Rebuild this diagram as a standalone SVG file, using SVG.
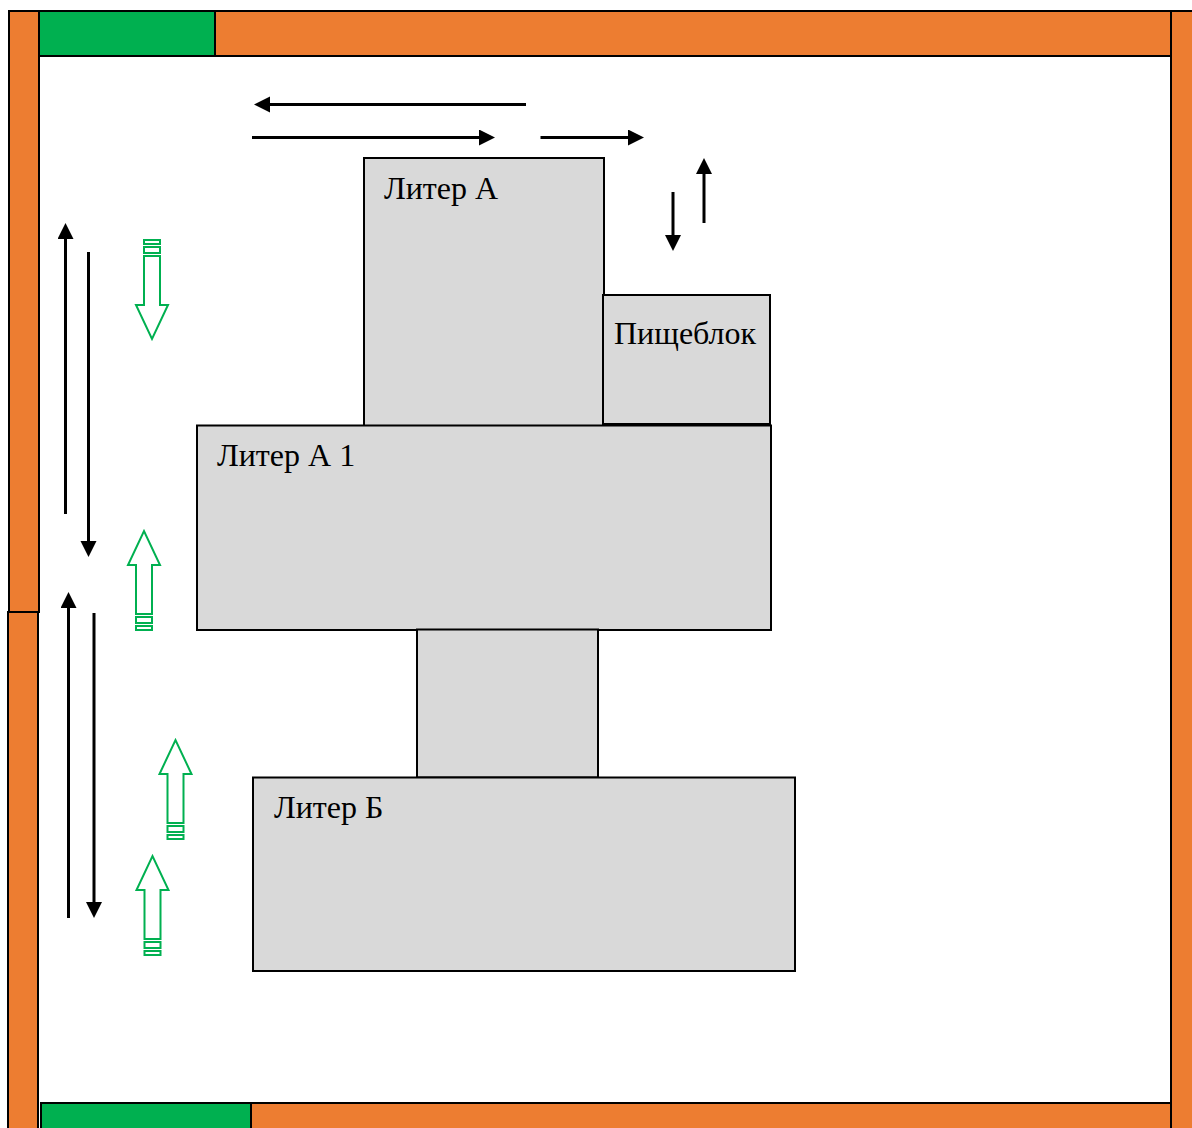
<svg xmlns="http://www.w3.org/2000/svg" width="1192" height="1128" viewBox="0 0 1192 1128">
<defs>
<style>
.w{fill:#ed7d31;stroke:#000;stroke-width:2}
.g{fill:#00b050;stroke:#000;stroke-width:2}
.b{fill:#d9d9d9;stroke:#000;stroke-width:2}
.t{font-family:"Liberation Serif","Times New Roman",serif;font-size:32px;fill:#000}
.l{stroke:#000;stroke-width:3;fill:none;marker-end:url(#ah)}
.a{fill:#fff;stroke:#00b050;stroke-width:2}
</style>
<marker id="ah" markerUnits="userSpaceOnUse" markerWidth="17" markerHeight="17" refX="8" refY="8" orient="auto"><path d="M0 0L16 8L0 16Z" fill="#000"/></marker>
<g id="ga"><path d="M-8 -34V15H-16L0 49L16 15H8V-34Z" class="a"/><rect x="-8" y="-43" width="16" height="6" class="a"/><rect x="-8" y="-50" width="16" height="4" class="a"/></g>
</defs>
<rect width="1192" height="1128" fill="#fff"/>
<g id="wall-left-top"><rect class="w" x="9" y="11" width="30" height="601"/></g>
<g id="wall-left-bottom"><rect class="w" x="8" y="612" width="30" height="520"/></g>
<g id="wall-right"><rect class="w" x="1171" y="11" width="30" height="1125"/></g>
<g id="wall-top"><rect class="w" x="39" y="11" width="1132" height="45"/></g>
<g id="gate-top"><rect class="g" x="39" y="11" width="176" height="45"/></g>
<g id="wall-bottom"><rect class="w" x="41" y="1103" width="1130" height="40"/></g>
<g id="gate-bottom"><rect class="g" x="41" y="1103" width="210" height="40"/></g>
<g id="liter-a"><rect class="b" x="364" y="158" width="240" height="268"/><text class="t" x="384" y="199">Литер А</text></g>
<g id="pishcheblok"><rect class="b" x="603" y="295" width="167" height="129"/><text class="t" x="614" y="344">Пищеблок</text></g>
<g id="liter-a1"><rect class="b" x="197" y="425.500" width="574" height="204.500"/><text class="t" x="217" y="466">Литер А 1</text></g>
<g id="passage"><rect class="b" x="417" y="629.500" width="181" height="148"/></g>
<g id="liter-b"><rect class="b" x="253" y="777.500" width="542" height="193.500"/><text class="t" x="274" y="818">Литер Б</text></g>
<g id="connectors">
<path class="l" d="M526 104.500H262"/>
<path class="l" d="M252 137.500H487"/>
<path class="l" d="M540.500 137.500H636"/>
<path class="l" d="M704 223V166"/>
<path class="l" d="M673 192V243"/>
<path class="l" d="M65.500 514V231"/>
<path class="l" d="M88.500 252V549"/>
<path class="l" d="M68.500 918V600"/>
<path class="l" d="M94 613V910"/>
</g>
<g id="green-arrows">
<use href="#ga" transform="translate(152 290)"/>
<use href="#ga" transform="translate(144 580) rotate(180)"/>
<use href="#ga" transform="translate(175.500 789) rotate(180)"/>
<use href="#ga" transform="translate(152.500 905) rotate(180)"/>
</g>
</svg>
